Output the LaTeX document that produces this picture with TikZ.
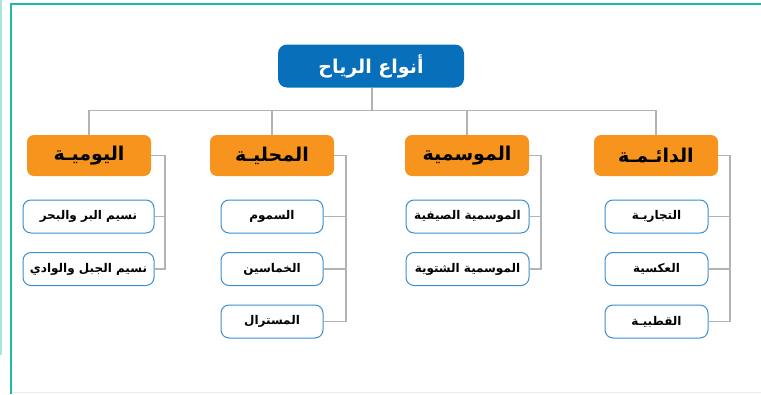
\documentclass[tikz,border=0pt]{standalone}
\usepackage{fontspec}
\usepackage{tikz}
\usetikzlibrary{positioning,calc}
\TeXXeTstate=1
\newfontfamily\arabicfont[Script=Arabic]{DejaVu Sans}
\definecolor{rootblue}{HTML}{0870BA}
\definecolor{catorange}{HTML}{F7941D}
\definecolor{leafblue}{HTML}{3A8FD0}
\definecolor{linegris}{HTML}{B3B3B3}
\definecolor{frameteal}{HTML}{1DBBA3}
\definecolor{framepale}{HTML}{A9E5DC}
\newcommand{\ar}[1]{\arabicfont\bfseries\beginR #1\endR}

\begin{document}
\begin{tikzpicture}[x=1pt,y=-1pt,
  root/.style={rectangle, rounded corners=9pt, fill=rootblue, text=white,
               minimum width=186pt, minimum height=43pt, font=\fontsize{19}{21}\selectfont},
  cat/.style={rectangle, rounded corners=7pt, fill=catorange, text=black,
              minimum width=124pt, minimum height=41pt, font=\fontsize{19}{21}\selectfont},
  leaf/.style={draw=leafblue, line width=1pt, rectangle, rounded corners=8pt, fill=white,
               minimum height=33pt, inner xsep=2pt, font=\fontsize{12}{14}\selectfont},
  line/.style={-, draw=linegris, line width=1.2pt}
]
  \useasboundingbox (0,0) rectangle (761,394);

  % frame
  \draw[framepale, line width=2pt] (1,0) -- (1,355);
  \draw[black!8, line width=1pt] (11,392) -- (761,392);
  \draw[frameteal, line width=2pt] (11,394) -- (11,3.5) -- (761,3.5);

  \node[root] (root) at (371,66) {\ar{أنواع الرياح}};

  \node[cat] (daily)    at (89,155.5)  {\ar{اليوميـة}};
  \node[cat] (local)    at (272,155.5) {\ar{المحليـة}};
  \node[cat] (seasonal) at (467,155.5) {\ar{الموسمية}};
  \node[cat] (perm)     at (656,155.5) {\ar{الدائـمـة}};

  \node[leaf, minimum width=131pt] (daily1) at (88.5,216.5) {\ar{نسيم البر والبحر}};
  \node[leaf, minimum width=131pt] (daily2) at (88.5,269)   {\ar{نسيم الجبل والوادي}};

  \node[leaf, minimum width=102pt] (local1) at (272,216.5) {\ar{السموم}};
  \node[leaf, minimum width=102pt] (local2) at (272,269)   {\ar{الخماسين}};
  \node[leaf, minimum width=102pt] (local3) at (272,321.5) {\ar{المسترال}};

  \node[leaf, minimum width=123pt] (seas1) at (467.5,216.5) {\ar{الموسمية الصيفية}};
  \node[leaf, minimum width=123pt] (seas2) at (467.5,269)   {\ar{الموسمية الشتوية}};

  \node[leaf, minimum width=103pt] (perm1) at (656.5,216.5) {\ar{التجاريـة}};
  \node[leaf, minimum width=103pt] (perm2) at (656.5,269)   {\ar{العكسية}};
  \node[leaf, minimum width=103pt] (perm3) at (656.5,321.5) {\ar{القطبيـة}};

  % root to categories
  \coordinate (bus) at (372,110.5);
  \draw[line] (root.south -| bus) -- (bus);
  \draw[line] (daily.north) |- (bus);
  \draw[line] (local.north) |- (bus);
  \draw[line] (seasonal.north) |- (bus);
  \draw[line] (perm.north) |- (bus);

  % categories to leaves
  \coordinate (dailyv) at (165,155.5);
  \coordinate (localv) at (346,155.5);
  \coordinate (seasv)  at (541,155.5);
  \coordinate (permv)  at (730,155.5);
  \draw[line] (daily.east) -- (dailyv) |- (daily2.east);
  \draw[line] (dailyv) |- (daily1.east);
  \draw[line] (local.east) -- (localv) |- (local3.east);
  \draw[line] (localv) |- (local1.east);
  \draw[line] (localv) |- (local2.east);
  \draw[line] (seasonal.east) -- (seasv) |- (seas2.east);
  \draw[line] (seasv) |- (seas1.east);
  \draw[line] (perm.east) -- (permv) |- (perm3.east);
  \draw[line] (permv) |- (perm1.east);
  \draw[line] (permv) |- (perm2.east);

\end{tikzpicture}
\end{document}
